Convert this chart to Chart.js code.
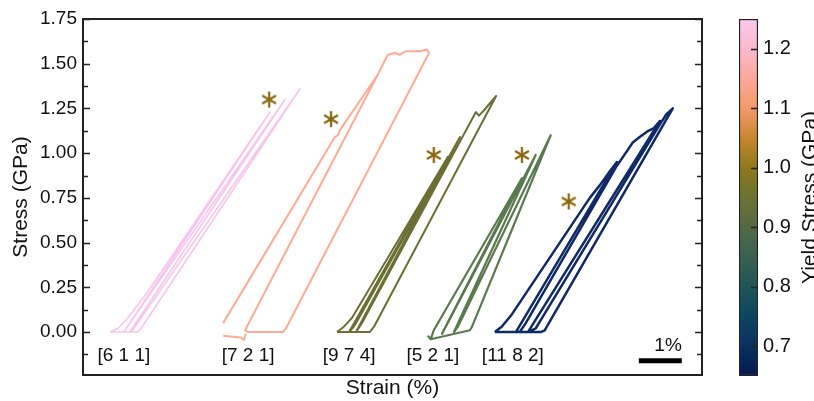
<!DOCTYPE html>
<html>
<head>
<meta charset="utf-8">
<script src="https://cdn.jsdelivr.net/npm/chart.js@4.4.1/dist/chart.umd.min.js"></script>
<style>
  body { margin: 0; background: #fff; }
  #wrap { position: relative; width: 814px; height: 401px; }
  #main { position: absolute; left: 0; top: 0; }
  #cbar { position: absolute; left: 720px; top: 0; }
</style>
</head>
<body>
<div id="wrap">
  <canvas id="main" width="814" height="401"></canvas>
  <canvas id="cbar" width="94" height="401"></canvas>
</div>
<script>
// strain (%) is shifted per sample so the curves sit side by side; null = gap in the line
const strain611 = [0.63, 0.81, 1.05, 1.49, 4.35, 0.95, 1.12, 4.70, 1.09, 1.12, 1.30, 5.05, 1.35, 1.28, 0.63];
const stress611 = [0, 0.02, 0.08, 0.22, 1.23, 0, 0.06, 1.30, 0, 0, 0.06, 1.36, 0.02, 0, 0];

const strain721 = [3.26, 5.86, 5.93, 5.98, 6.86, 7.09, 7.26, 7.37, 7.51, 7.84, 8.00, 8.05, 4.72, 4.65, 3.84, 3.77, 6.88, null, 3.26, 3.67, 3.74, 3.79];
const stress721 = [0.05, 1.09, 1.10, 1.13, 1.44, 1.55, 1.56, 1.55, 1.57, 1.57, 1.58, 1.56, 0.02, 0, 0, 0.01, 1.45, null, -0.02, -0.03, -0.045, -0.01];

const strain974 = [5.91, 6.07, 6.26, 8.49, 6.19, 6.30, 6.40, 8.77, 6.35, 6.49, 9.14, 9.21, 9.33, 9.61, 6.77, 6.67, 5.91];
const stress974 = [0, 0.03, 0.08, 0.98, 0, 0.03, 0.07, 1.09, 0, 0.05, 1.23, 1.21, 1.24, 1.32, 0.03, 0, 0];

const strain521 = [8.02, 8.09, 8.16, 10.21, 8.35, 8.44, 10.53, 8.63, 8.72, 10.88, 9.05, 9.00, 8.09];
const stress521 = [-0.02, -0.04, 0.01, 0.86, -0.01, 0.03, 0.99, 0, 0.03, 1.10, 0.03, 0.01, -0.04];

const strain1182 = [9.58, 9.74, 9.98, 11.79, 12.02, 12.26, 12.42, 10.07, 10.16, 10.30, 12.42, 12.65, 12.79, 12.95, 13.12, 13.28, 13.42, 10.35, 10.53, 10.63, 13.47, 13.58, 13.72, 10.74, 10.65, 9.58];
const stress1182 = [0, 0.03, 0.10, 0.75, 0.82, 0.90, 0.95, 0, 0, 0.05, 0.93, 1.01, 1.06, 1.09, 1.12, 1.14, 1.18, 0, 0.02, 0.06, 1.18, 1.22, 1.25, 0.01, 0, 0];

// yield points (asterisks)
const yieldStrain = [4.33, 5.77, 8.16, 10.21, 11.30];
const yieldStress = [1.30, 1.19, 0.99, 0.99, 0.73];

// orientation labels under each curve
const sampleNames = ['[6 1 1]', '[7 2 1]', '[9 7 4]', '[5 2 1]', '[11 8 2]'];
const nameStrain = [0.95, 3.84, 6.19, 8.14, 10.0];
const nameStress = -0.13;

// 1% scale bar
const scaleBarStrain = [12.93, 13.93];
const scaleBarStress = [-0.16, -0.16];

const stressTicks = [0, 0.25, 0.5, 0.75, 1.0, 1.25, 1.5, 1.75];
const yieldTicks = [0.7, 0.8, 0.9, 1.0, 1.1, 1.2];

// colour bar, 0.65 -> 1.25 GPa
const cbarColors = ['#05194f', '#0a3060', '#0c4560', '#1e5558', '#3b6050', '#536a47', '#6d7232',
                    '#8e7a1a', '#c7872f', '#f49a68', '#fca89a', '#fbb8cc', '#f9c8f0'];

const FONT = '"Liberation Sans", Arial, sans-serif';

function pts(xs, ys) {
    return xs.map((x, i) => ({ x: x, y: ys[i] }));
}

function curve(xs, ys, color, width) {
    return {
        data: pts(xs, ys),
        showLine: true,
        borderColor: color,
        borderWidth: width,
        borderJoinStyle: 'round',
        pointRadius: 0,
        tension: 0
    };
}

// asterisk marker with 6 arms
function asterisk(size, color) {
    const c = document.createElement('canvas');
    c.width = c.height = size;
    const g = c.getContext('2d');
    g.strokeStyle = color;
    g.lineWidth = 2.3;
    const r = size / 2 - 1;
    [90, 30, 150].forEach(deg => {
        const t = deg * Math.PI / 180;
        g.beginPath();
        g.moveTo(size / 2 - r * Math.cos(t), size / 2 - r * Math.sin(t));
        g.lineTo(size / 2 + r * Math.cos(t), size / 2 + r * Math.sin(t));
        g.stroke();
    });
    return c;
}

const frameAndText = {
    id: 'frameAndText',
    afterDatasetsDraw(chart) {
        const { ctx, chartArea: a, scales: { x, y } } = chart;
        ctx.save();
        ctx.strokeStyle = '#222';
        ctx.lineWidth = 2;
        ctx.strokeRect(a.left, a.top, a.right - a.left, a.bottom - a.top);

        // inward ticks on both sides, minor ones halfway
        ctx.lineWidth = 1.6;
        const tick = (v, len) => {
            const py = Math.round(y.getPixelForValue(v)) + 0.5;
            ctx.beginPath();
            ctx.moveTo(a.left, py); ctx.lineTo(a.left + len, py);
            ctx.moveTo(a.right, py); ctx.lineTo(a.right - len, py);
            ctx.stroke();
        };
        stressTicks.forEach(v => tick(v, 7));
        stressTicks.forEach(v => tick(v - 0.125, 5));

        ctx.fillStyle = '#111';
        ctx.font = '19px ' + FONT;
        ctx.textAlign = 'center';
        ctx.textBaseline = 'middle';
        sampleNames.forEach((s, i) => {
            ctx.fillText(s, x.getPixelForValue(nameStrain[i]), y.getPixelForValue(nameStress));
        });
        ctx.textAlign = 'right';
        ctx.fillText('1%', x.getPixelForValue(scaleBarStrain[1]), y.getPixelForValue(-0.075));
        ctx.restore();
    }
};

new Chart(document.getElementById('main'), {
    type: 'scatter',
    data: {
        datasets: [
            curve(strain611, stress611, '#f8c4ee', 1.6),
            curve(strain721, stress721, '#fcab94', 2),
            curve(strain974, stress974, '#6b6f33', 2),
            curve(strain521, stress521, '#587a4c', 2.2),
            curve(strain1182, stress1182, '#0f2a66', 2.5),
            {
                data: pts(scaleBarStrain, scaleBarStress),
                showLine: true,
                borderColor: '#000',
                borderWidth: 5,
                borderCapStyle: 'butt',
                pointRadius: 0
            },
            {
                data: pts(yieldStrain, yieldStress),
                pointStyle: asterisk(18, '#8b6a10'),
                pointRadius: 8
            }
        ]
    },
    options: {
        responsive: false,
        animation: false,
        devicePixelRatio: 1,
        layout: { padding: { left: 0, top: 19, right: 112, bottom: 0 } },
        plugins: { legend: { display: false }, tooltip: { enabled: false } },
        scales: {
            x: {
                type: 'linear',
                min: 0,
                max: 14.4,
                grid: { display: false, drawTicks: false },
                border: { display: false },
                ticks: { display: false },
                title: {
                    display: true,
                    text: 'Strain (%)',
                    color: '#111',
                    font: { family: FONT, size: 21 },
                    padding: 0
                },
                afterFit: s => { s.height = 26; }
            },
            y: {
                min: -0.24,
                max: 1.75,
                grid: { display: false, drawTicks: false },
                border: { display: false },
                afterBuildTicks: s => { s.ticks = stressTicks.map(v => ({ value: v })); },
                ticks: {
                    padding: 6,
                    color: '#111',
                    font: { family: FONT, size: 19 },
                    callback: v => v.toFixed(2)
                },
                title: {
                    display: true,
                    text: 'Stress (GPa)',
                    color: '#111',
                    font: { family: FONT, size: 21 },
                    padding: { top: 9, bottom: 0 }
                },
                afterFit: s => { s.width = 83; }
            }
        }
    },
    plugins: [frameAndText]
});

const cbarDecor = {
    id: 'cbarDecor',
    afterDatasetsDraw(chart) {
        const { ctx, chartArea: a, scales: { y } } = chart;
        ctx.save();
        ctx.strokeStyle = '#222';
        ctx.lineWidth = 1.6;
        yieldTicks.forEach(v => {
            const py = Math.round(y.getPixelForValue(v)) + 0.5;
            ctx.beginPath();
            ctx.moveTo(a.right, py);
            ctx.lineTo(a.right - 7, py);
            ctx.stroke();
        });
        // title reads bottom-to-top, baseline near the page edge
        ctx.translate(96, (a.top + a.bottom) / 2);
        ctx.rotate(-Math.PI / 2);
        ctx.fillStyle = '#111';
        ctx.font = '21px ' + FONT;
        ctx.textAlign = 'center';
        ctx.textBaseline = 'alphabetic';
        ctx.fillText('Yield Stress (GPa)', 0, 0);
        ctx.restore();
    }
};

new Chart(document.getElementById('cbar'), {
    type: 'bar',
    data: {
        labels: ['yield'],
        datasets: [{
            data: [[0.65, 1.25]],
            barPercentage: 1,
            categoryPercentage: 1,
            borderColor: '#222',
            borderWidth: 1.5,
            borderSkipped: false,
            backgroundColor: c => {
                const ch = c.chart;
                if (!ch.chartArea) return null;
                const ys = ch.scales.y;
                const g = ch.ctx.createLinearGradient(0, ys.getPixelForValue(0.65), 0, ys.getPixelForValue(1.25));
                cbarColors.forEach((col, i) => g.addColorStop(i / (cbarColors.length - 1), col));
                return g;
            }
        }]
    },
    options: {
        responsive: false,
        animation: false,
        devicePixelRatio: 1,
        layout: { padding: { left: 19, top: 19, right: 0, bottom: 25 } },
        plugins: { legend: { display: false }, tooltip: { enabled: false } },
        scales: {
            x: { display: false },
            y: {
                position: 'right',
                min: 0.65,
                max: 1.25,
                grid: { display: false, drawTicks: false },
                border: { display: false },
                afterBuildTicks: s => { s.ticks = yieldTicks.map(v => ({ value: v })); },
                ticks: {
                    padding: 5,
                    color: '#111',
                    font: { family: FONT, size: 20 },
                    callback: v => v.toFixed(1)
                },
                afterFit: s => { s.width = 56; }
            }
        }
    },
    plugins: [cbarDecor]
});
</script>
</body>
</html>
